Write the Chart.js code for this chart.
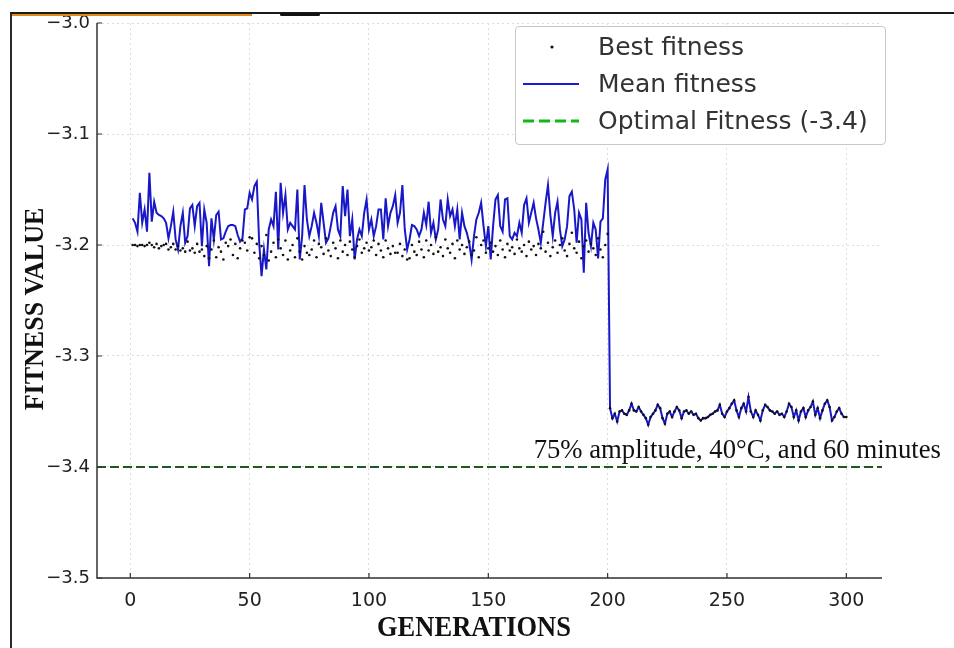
<!DOCTYPE html>
<html><head><meta charset="utf-8">
<script src="https://cdn.jsdelivr.net/npm/chart.js@4.4.0/dist/chart.umd.min.js"></script>
<style>
html,body{margin:0;padding:0;background:#fff;}
#wrap{position:relative;width:954px;height:648px;overflow:hidden;background:#fff;}
#c{position:absolute;left:0;top:0;}
#frame{position:absolute;left:10px;top:12px;width:980px;height:700px;border-left:2px solid #2a2a2a;border-top:2px solid #1a1a1a;pointer-events:none;}
#orange{position:absolute;left:12px;top:14px;width:240px;height:2px;background:#e0891c;}
#blob{position:absolute;left:280px;top:13px;width:40px;height:3px;background:#111;border-radius:2px;}
#legend{position:absolute;left:515px;top:26px;width:369px;height:117px;border:1px solid #c8c8c8;border-radius:4px;background:rgba(255,255,255,0.92);font-family:"DejaVu Sans",sans-serif;font-size:25px;color:#333;}
.lt{position:absolute;left:82px;height:30px;line-height:30px;white-space:nowrap;}
.mk{position:absolute;left:6px;width:58px;height:10px;}
</style>
</head><body>
<div id="wrap">
<canvas id="c" width="954" height="648"></canvas>
<div id="frame"></div><div id="orange"></div><div id="blob"></div>
<div id="legend">
  <svg class="mk" style="top:15px" width="58" height="10"><circle cx="30" cy="5" r="1.6" fill="#111"/></svg>
  <div class="lt" style="top:5px">Best fitness</div>
  <svg class="mk" style="top:52px" width="58" height="10"><line x1="1" y1="5" x2="57" y2="5" stroke="#1a1ad8" stroke-width="2"/></svg>
  <div class="lt" style="top:42px">Mean fitness</div>
  <svg class="mk" style="top:89px" width="58" height="10"><line x1="1" y1="5" x2="57" y2="5" stroke="#10b810" stroke-width="3" stroke-dasharray="11,5"/></svg>
  <div class="lt" style="top:79px">Optimal Fitness (-3.4)</div>
</div>
</div>
<script>
// ---- data ----
const generations = Array.from({length: 300}, (_, i) => i + 1);

const meanFitness = [
 -3.176,-3.180,-3.188,-3.153,-3.180,-3.168,-3.188,-3.135,-3.179,-3.161,
 -3.171,-3.173,-3.174,-3.176,-3.180,-3.194,-3.183,-3.170,-3.195,-3.204,
 -3.183,-3.171,-3.198,-3.192,-3.167,-3.164,-3.183,-3.165,-3.162,-3.201,
 -3.168,-3.180,-3.219,-3.176,-3.195,-3.173,-3.170,-3.195,-3.194,-3.188,
 -3.183,-3.182,-3.182,-3.183,-3.191,-3.197,-3.194,-3.168,-3.167,-3.153,
 -3.159,-3.147,-3.143,-3.198,-3.228,-3.204,-3.222,-3.186,-3.177,-3.183,
 -3.152,-3.204,-3.144,-3.171,-3.155,-3.186,-3.180,-3.183,-3.186,-3.150,
 -3.213,-3.192,-3.146,-3.177,-3.192,-3.183,-3.171,-3.180,-3.192,-3.162,
 -3.180,-3.198,-3.194,-3.183,-3.171,-3.165,-3.186,-3.192,-3.147,-3.174,
 -3.150,-3.192,-3.177,-3.213,-3.195,-3.186,-3.192,-3.171,-3.159,-3.186,
 -3.177,-3.192,-3.183,-3.168,-3.168,-3.195,-3.158,-3.183,-3.171,-3.165,
 -3.155,-3.180,-3.171,-3.146,-3.186,-3.204,-3.195,-3.182,-3.183,-3.186,
 -3.192,-3.186,-3.171,-3.182,-3.161,-3.189,-3.180,-3.195,-3.186,-3.159,
 -3.177,-3.183,-3.159,-3.174,-3.168,-3.183,-3.168,-3.195,-3.171,-3.183,
 -3.189,-3.198,-3.213,-3.192,-3.177,-3.171,-3.162,-3.183,-3.201,-3.183,
 -3.213,-3.183,-3.159,-3.155,-3.183,-3.188,-3.159,-3.158,-3.192,-3.195,
 -3.189,-3.192,-3.180,-3.189,-3.164,-3.158,-3.180,-3.171,-3.162,-3.176,
 -3.186,-3.198,-3.180,-3.162,-3.146,-3.173,-3.192,-3.171,-3.161,-3.186,
 -3.201,-3.195,-3.183,-3.156,-3.152,-3.168,-3.198,-3.171,-3.177,-3.225,
 -3.162,-3.189,-3.201,-3.180,-3.186,-3.212,-3.179,-3.176,-3.141,-3.132,
 -3.347,-3.356,-3.352,-3.359,-3.350,-3.349,-3.352,-3.353,-3.349,-3.343,
 -3.349,-3.350,-3.346,-3.350,-3.353,-3.356,-3.362,-3.355,-3.352,-3.349,
 -3.344,-3.347,-3.356,-3.361,-3.352,-3.350,-3.355,-3.350,-3.346,-3.349,
 -3.356,-3.350,-3.349,-3.352,-3.350,-3.353,-3.352,-3.356,-3.358,-3.356,
 -3.356,-3.355,-3.353,-3.352,-3.350,-3.349,-3.344,-3.352,-3.355,-3.350,
 -3.347,-3.343,-3.340,-3.349,-3.355,-3.347,-3.343,-3.350,-3.337,-3.350,
 -3.355,-3.349,-3.353,-3.358,-3.349,-3.344,-3.346,-3.349,-3.350,-3.352,
 -3.350,-3.353,-3.352,-3.355,-3.350,-3.343,-3.346,-3.355,-3.349,-3.358,
 -3.350,-3.347,-3.355,-3.349,-3.346,-3.341,-3.353,-3.347,-3.356,-3.349,
 -3.343,-3.340,-3.346,-3.358,-3.355,-3.350,-3.347,-3.352,-3.355,-3.355
];

const bestFitness = [
 -3.200,-3.200,-3.201,-3.200,-3.200,-3.201,-3.200,-3.198,-3.200,-3.202,
 -3.199,-3.203,-3.201,-3.200,-3.199,-3.204,-3.202,-3.199,-3.204,-3.201,
 -3.205,-3.203,-3.206,-3.197,-3.205,-3.203,-3.207,-3.199,-3.206,-3.204,
 -3.210,-3.201,-3.212,-3.204,-3.196,-3.211,-3.202,-3.206,-3.213,-3.198,
 -3.201,-3.195,-3.209,-3.199,-3.212,-3.203,-3.196,-3.198,-3.205,-3.193,
 -3.194,-3.207,-3.199,-3.212,-3.201,-3.209,-3.191,-3.214,-3.206,-3.198,
 -3.211,-3.195,-3.203,-3.209,-3.196,-3.213,-3.205,-3.200,-3.211,-3.194,
 -3.206,-3.213,-3.201,-3.207,-3.209,-3.204,-3.196,-3.211,-3.199,-3.202,
 -3.208,-3.194,-3.205,-3.210,-3.198,-3.203,-3.212,-3.196,-3.206,-3.200,
 -3.209,-3.197,-3.204,-3.211,-3.201,-3.195,-3.207,-3.203,-3.198,-3.205,
 -3.202,-3.196,-3.209,-3.199,-3.205,-3.211,-3.196,-3.203,-3.208,-3.201,
 -3.207,-3.207,-3.199,-3.210,-3.204,-3.213,-3.212,-3.200,-3.206,-3.209,
 -3.197,-3.204,-3.211,-3.196,-3.205,-3.200,-3.208,-3.193,-3.206,-3.202,
 -3.210,-3.195,-3.203,-3.207,-3.199,-3.212,-3.196,-3.204,-3.200,-3.208,
 -3.202,-3.197,-3.209,-3.205,-3.193,-3.211,-3.200,-3.196,-3.207,-3.203,
 -3.198,-3.206,-3.201,-3.209,-3.196,-3.204,-3.211,-3.199,-3.205,-3.202,
 -3.208,-3.195,-3.203,-3.206,-3.200,-3.210,-3.197,-3.204,-3.201,-3.209,
 -3.199,-3.203,-3.188,-3.206,-3.198,-3.210,-3.202,-3.196,-3.207,-3.200,
 -3.194,-3.205,-3.210,-3.199,-3.189,-3.203,-3.207,-3.197,-3.212,-3.201,
 -3.196,-3.206,-3.199,-3.203,-3.209,-3.194,-3.204,-3.211,-3.200,-3.190,
 -3.347,-3.356,-3.352,-3.359,-3.350,-3.349,-3.352,-3.353,-3.349,-3.343,
 -3.349,-3.350,-3.346,-3.350,-3.353,-3.356,-3.362,-3.355,-3.352,-3.349,
 -3.344,-3.347,-3.356,-3.361,-3.352,-3.350,-3.355,-3.350,-3.346,-3.349,
 -3.356,-3.350,-3.349,-3.352,-3.350,-3.353,-3.352,-3.356,-3.358,-3.356,
 -3.356,-3.355,-3.353,-3.352,-3.350,-3.349,-3.344,-3.352,-3.355,-3.350,
 -3.347,-3.343,-3.340,-3.349,-3.355,-3.347,-3.343,-3.350,-3.337,-3.350,
 -3.355,-3.349,-3.353,-3.358,-3.349,-3.344,-3.346,-3.349,-3.350,-3.352,
 -3.350,-3.353,-3.352,-3.355,-3.350,-3.343,-3.346,-3.355,-3.349,-3.358,
 -3.350,-3.347,-3.355,-3.349,-3.346,-3.341,-3.353,-3.347,-3.356,-3.349,
 -3.343,-3.340,-3.346,-3.358,-3.355,-3.350,-3.347,-3.352,-3.355,-3.355
];

const optimalFitness = -3.4;
const xTickValues = [0, 50, 100, 150, 200, 250, 300];
const yTickValues = [-3.5, -3.4, -3.3, -3.2, -3.1, -3.0];
const yTickLabels = ["\u22123.5", "\u22123.4", "-3.3", "-3.2", "\u22123.1", "\u22123.0"];
const xTitle = "GENERATIONS";
const yTitle = "FITNESS VALUE";
const annotationText = "75% amplitude, 40\u00B0C, and 60 minutes";

// ---- chart ----
const deco = {
  id: 'deco',
  afterDatasetsDraw(chart) {
    const {ctx, chartArea: a, scales: {x, y}} = chart;
    const yo = y.getPixelForValue(optimalFitness);
    ctx.save();
    ctx.strokeStyle = '#1e5a1e';
    ctx.lineWidth = 2;
    ctx.setLineDash([9, 4]);
    ctx.beginPath(); ctx.moveTo(a.left, yo); ctx.lineTo(a.right, yo); ctx.stroke();
    ctx.restore();
  },
  afterDraw(chart) {
    const {ctx, chartArea: a, scales: {x, y}} = chart;
    ctx.save();
    // spines
    ctx.strokeStyle = '#333'; ctx.lineWidth = 1.5; ctx.setLineDash([]);
    ctx.beginPath();
    ctx.moveTo(a.left, a.top); ctx.lineTo(a.left, a.bottom); ctx.lineTo(a.right, a.bottom);
    ctx.stroke();
    // inward ticks
    ctx.lineWidth = 1.2;
    ctx.beginPath();
    yTickValues.forEach(v => { const p = y.getPixelForValue(v); ctx.moveTo(a.left, p); ctx.lineTo(a.left + 5, p); });
    xTickValues.forEach(v => { const p = x.getPixelForValue(v); ctx.moveTo(p, a.bottom); ctx.lineTo(p, a.bottom - 5); });
    ctx.stroke();
    // annotation
    ctx.fillStyle = '#111';
    ctx.font = '26.7px "Liberation Serif", "Times New Roman", serif';
    ctx.textAlign = 'left'; ctx.textBaseline = 'alphabetic';
    ctx.fillText(annotationText, x.getPixelForValue(169), y.getPixelForValue(-3.392));
    // axis titles (slightly tall, as in the reference)
    ctx.font = 'bold 26px "Liberation Serif", "Times New Roman", serif';
    ctx.textAlign = 'center'; ctx.textBaseline = 'middle';
    ctx.save();
    ctx.translate(474, 628); ctx.scale(1.02, 1.15);
    ctx.fillText(xTitle, 0, 0);
    ctx.restore();
    ctx.translate(36, 309); ctx.rotate(-Math.PI / 2); ctx.scale(1.0, 1.05);
    ctx.fillText(yTitle, 0, 0);
    ctx.restore();
  }
};

new Chart(document.getElementById('c'), {
  type: 'line',
  data: {
    datasets: [
      {
        label: 'Best fitness',
        data: bestFitness.map((v, i) => ({x: generations[i], y: v})),
        showLine: false,
        pointRadius: 1.3,
        pointBorderWidth: 0,
        pointBackgroundColor: '#111',
        borderColor: '#111'
      },
      {
        label: 'Mean fitness',
        data: meanFitness.map((v, i) => ({x: generations[i], y: v})),
        borderColor: '#1818c8',
        borderWidth: 2,
        pointRadius: 0,
        tension: 0,
        fill: false
      }
    ]
  },
  options: {
    responsive: false,
    animation: false,
    devicePixelRatio: 1,
    layout: {padding: {left: 0, top: 23, right: 72, bottom: 0}},
    plugins: {legend: {display: false}, tooltip: {enabled: false}},
    scales: {
      x: {
        type: 'linear', min: -13.95, max: 314.95,
        afterBuildTicks: s => { s.ticks = xTickValues.map(v => ({value: v})); },
        afterFit: s => { s.height = 70; },
        grid: {color: '#dcdcdc', lineWidth: 1, drawTicks: false},
        border: {display: false, dash: [2, 3]},
        ticks: {padding: 12, color: '#222', font: {family: 'DejaVu Sans', size: 19}, maxRotation: 0,
          callback: v => String(v)}
      },
      y: {
        type: 'linear', min: -3.5, max: -3.0,
        afterBuildTicks: s => { s.ticks = yTickValues.map(v => ({value: v})); },
        afterFit: s => { s.width = 97; },
        grid: {color: '#dcdcdc', lineWidth: 1, drawTicks: false},
        border: {display: false, dash: [2, 3]},
        ticks: {padding: 7, color: '#222', font: {family: 'DejaVu Sans', size: 18},
          callback: v => yTickLabels[yTickValues.findIndex(t => Math.abs(t - v) < 1e-9)]}
      }
    }
  },
  plugins: [deco]
});
</script>
</body></html>
